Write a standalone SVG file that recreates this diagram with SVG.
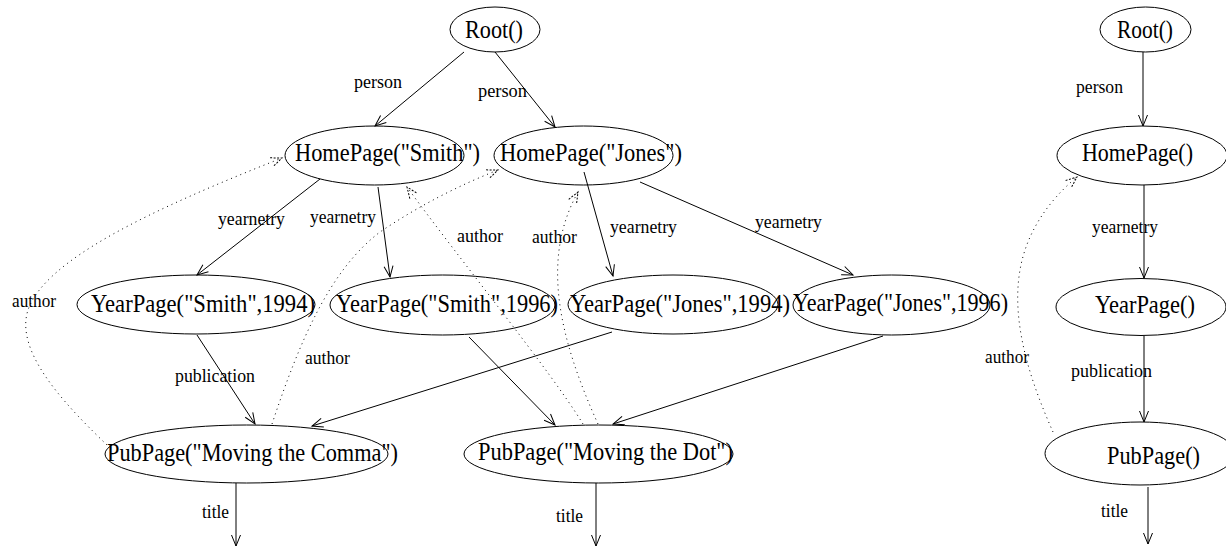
<svg xmlns="http://www.w3.org/2000/svg" width="1226" height="548" viewBox="0 0 1226 548">
<style>
.n ellipse{fill:none;stroke:#000;stroke-width:1}
.n text{font-family:'Liberation Serif',serif;font-size:25px;fill:#000}
.lbl{font-family:'Liberation Serif',serif;font-size:19.5px;fill:#000}
.e{fill:none;stroke:#000;stroke-width:1;marker-end:url(#ah)}
.d{fill:none;stroke:#000;stroke-width:1;stroke-dasharray:1 4;marker-end:url(#ahd)}
</style>
<defs>
<marker id="ah" markerUnits="userSpaceOnUse" markerWidth="12" markerHeight="10" refX="11" refY="4.5" orient="auto" overflow="visible">
<path d="M0,0 L11,4.5 L0,9" fill="none" stroke="#000" stroke-width="1"/>
</marker>
<marker id="ahd" markerUnits="userSpaceOnUse" markerWidth="12" markerHeight="10" refX="11" refY="4.5" orient="auto" overflow="visible">
<path d="M0,0 L11,4.5 L0,9" fill="none" stroke="#000" stroke-width="1" stroke-dasharray="2 1.5"/>
</marker>
</defs>
<g id="connectors">
<path class="e" d="M464,52 L375,126"/>
<path class="e" d="M495,52 L555,127"/>
<path class="e" d="M320,179 L197,275"/>
<path class="e" d="M378,187 L390,277"/>
<path class="e" d="M584,172 L613,276"/>
<path class="e" d="M640,182 L853,275"/>
<path class="e" d="M197,335 L255,424"/>
<path class="e" d="M469,337 L555,425"/>
<path class="e" d="M612,332 L312,426"/>
<path class="e" d="M883,336 L613,424"/>
<path class="e" d="M236,483 L236,546"/>
<path class="e" d="M596,483 L596,546"/>
<path class="e" d="M1143,52 L1143,126"/>
<path class="e" d="M1144,185 L1144,278"/>
<path class="e" d="M1144,336 L1144,422"/>
<path class="e" d="M1148,487 L1148,544"/>
<path class="d" d="M107,445 C60,400 15,350 28,310 C45,260 150,210 282,158"/>
<path class="d" d="M272,424 C300,340 330,270 380,232 C420,205 460,185 498,170"/>
<path class="d" d="M583,424 C550,370 460,260 407,187"/>
<path class="d" d="M598,424 C560,340 540,260 578,192"/>
<path class="d" d="M1053,432 C1030,380 1005,310 1025,250 C1035,220 1055,195 1077,177"/>
<text class="lbl" x="354" y="88" textLength="48" lengthAdjust="spacingAndGlyphs">person</text>
<text class="lbl" x="478" y="97" textLength="49" lengthAdjust="spacingAndGlyphs">person</text>
<text class="lbl" x="1076" y="93" textLength="47" lengthAdjust="spacingAndGlyphs">person</text>
<text class="lbl" x="218" y="225" textLength="67" lengthAdjust="spacingAndGlyphs">yearnetry</text>
<text class="lbl" x="310" y="223" textLength="66" lengthAdjust="spacingAndGlyphs">yearnetry</text>
<text class="lbl" x="610" y="233" textLength="67" lengthAdjust="spacingAndGlyphs">yearnetry</text>
<text class="lbl" x="755" y="228" textLength="67" lengthAdjust="spacingAndGlyphs">yearnetry</text>
<text class="lbl" x="1092" y="233" textLength="66" lengthAdjust="spacingAndGlyphs">yearnetry</text>
<text class="lbl" x="175" y="382" textLength="80" lengthAdjust="spacingAndGlyphs">publication</text>
<text class="lbl" x="1071" y="377" textLength="81" lengthAdjust="spacingAndGlyphs">publication</text>
<text class="lbl" x="12" y="307" textLength="44" lengthAdjust="spacingAndGlyphs">author</text>
<text class="lbl" x="305" y="364" textLength="45" lengthAdjust="spacingAndGlyphs">author</text>
<text class="lbl" x="457" y="242" textLength="46" lengthAdjust="spacingAndGlyphs">author</text>
<text class="lbl" x="532" y="243" textLength="45" lengthAdjust="spacingAndGlyphs">author</text>
<text class="lbl" x="985" y="363" textLength="44" lengthAdjust="spacingAndGlyphs">author</text>
<text class="lbl" x="202" y="518" textLength="27" lengthAdjust="spacingAndGlyphs">title</text>
<text class="lbl" x="556" y="522" textLength="27" lengthAdjust="spacingAndGlyphs">title</text>
<text class="lbl" x="1101" y="517" textLength="27" lengthAdjust="spacingAndGlyphs">title</text>
</g>
<g id="root1" class="n"><ellipse cx="495" cy="29.5" rx="45" ry="22.5"/><text x="465" y="38" textLength="58" lengthAdjust="spacingAndGlyphs">Root()</text></g>
<g id="homeSmith" class="n"><ellipse cx="374.5" cy="155.5" rx="89.5" ry="29.5"/><text x="295" y="161" textLength="185" lengthAdjust="spacingAndGlyphs">HomePage("Smith")</text></g>
<g id="homeJones" class="n"><ellipse cx="583.5" cy="155.5" rx="89.5" ry="29.5"/><text x="500" y="161" textLength="182" lengthAdjust="spacingAndGlyphs">HomePage("Jones")</text></g>
<g id="yearSmith1994" class="n"><ellipse cx="196" cy="304.5" rx="119" ry="29.5"/><text x="91" y="312" textLength="224" lengthAdjust="spacingAndGlyphs">YearPage("Smith",1994)</text></g>
<g id="yearSmith1996" class="n"><ellipse cx="442.5" cy="305" rx="112.5" ry="30"/><text x="336" y="312" textLength="222" lengthAdjust="spacingAndGlyphs">YearPage("Smith",1996)</text></g>
<g id="yearJones1994" class="n"><ellipse cx="673" cy="304.5" rx="105" ry="29.5"/><text x="570" y="312" textLength="220" lengthAdjust="spacingAndGlyphs">YearPage("Jones",1994)</text></g>
<g id="yearJones1996" class="n"><ellipse cx="891.5" cy="305" rx="98.5" ry="30"/><text x="793" y="311" textLength="215" lengthAdjust="spacingAndGlyphs">YearPage("Jones",1996)</text></g>
<g id="pubComma" class="n"><ellipse cx="246.5" cy="454" rx="141.5" ry="29"/><text x="107" y="461" textLength="291" lengthAdjust="spacingAndGlyphs">PubPage("Moving the Comma")</text></g>
<g id="pubDot" class="n"><ellipse cx="598.5" cy="454" rx="134.5" ry="29"/><text x="478" y="460" textLength="255" lengthAdjust="spacingAndGlyphs">PubPage("Moving the Dot")</text></g>
<g id="root2" class="n"><ellipse cx="1145.5" cy="29.5" rx="45.5" ry="22.5"/><text x="1117" y="38" textLength="56" lengthAdjust="spacingAndGlyphs">Root()</text></g>
<g id="homeGeneric" class="n"><ellipse cx="1142" cy="155.5" rx="85" ry="29.5"/><text x="1082" y="161" textLength="111" lengthAdjust="spacingAndGlyphs">HomePage()</text></g>
<g id="yearGeneric" class="n"><ellipse cx="1141" cy="307" rx="85" ry="28.5"/><text x="1095" y="313" textLength="100" lengthAdjust="spacingAndGlyphs">YearPage()</text></g>
<g id="pubGeneric" class="n"><ellipse cx="1140" cy="453.5" rx="95" ry="31.5"/><text x="1107" y="464" textLength="93" lengthAdjust="spacingAndGlyphs">PubPage()</text></g>
</svg>
